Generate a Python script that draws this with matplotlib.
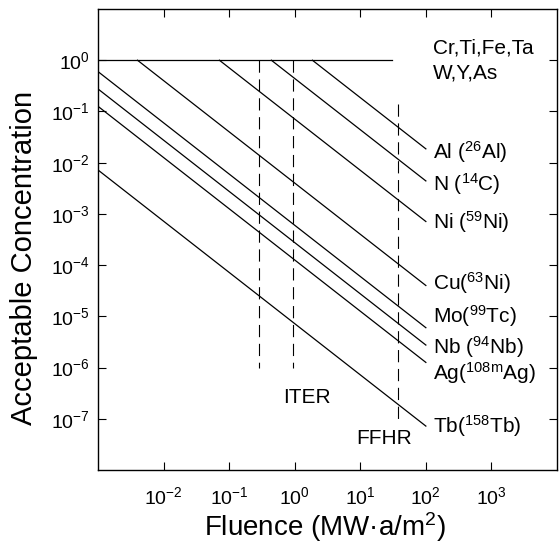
import matplotlib
matplotlib.use('Agg')
import matplotlib.pyplot as plt

plt.rcParams['font.family'] = ['Liberation Sans', 'DejaVu Sans']
plt.rcParams['mathtext.fontset'] = 'custom'
plt.rcParams['mathtext.rm'] = 'Liberation Sans'
plt.rcParams['mathtext.it'] = 'Liberation Sans:italic'
plt.rcParams['mathtext.bf'] = 'Liberation Sans:bold'

# Limit lines (fluence in MW.a/m2, concentration)
line_names = ['Al', 'N', 'Ni', 'Cu', 'Mo', 'Nb', 'Ag', 'Tb']
line_labels = ['Al ($^{26}$Al)', 'N ($^{14}$C)', 'Ni ($^{59}$Ni)', 'Cu($^{63}$Ni)',
               'Mo($^{99}$Tc)', 'Nb ($^{94}$Nb)', 'Ag($^{108\\mathrm{m}}$Ag)', 'Tb($^{158}$Tb)']
start_fluence = [1.86, 0.44, 0.071, 0.004, 0.001, 0.001, 0.001, 0.001]
start_conc = [1.0, 1.0, 1.0, 1.0, 0.6, 0.275, 0.126, 0.0072]
end_fluence = [100, 100, 100, 100, 100, 100, 100, 100]
end_conc = [0.0186, 0.0044, 0.00071, 4.0e-5, 6.0e-6, 2.75e-6, 1.26e-6, 7.2e-8]
label_conc = [0.016, 0.0038, 0.00069, 4.5e-5, 1.0e-5, 2.5e-6, 7.8e-7, 7.2e-8]
label_fluence = 130

# Elements that are not limited (flat line at 10^0)
flat_fluence = [0.001, 30]
flat_conc = [1.0, 1.0]
flat_labels = ['Cr,Ti,Fe,Ta', 'W,Y,As']
flat_label_conc = [1.73, 0.56]

# Device fluences (dashed)
device_fluence = [0.29, 0.95, 38]
device_top = [1.0, 1.0, 0.14]
device_bottom = [1e-6, 1e-6, 8.5e-8]
device_names = ['ITER', 'FFHR']
device_label_x = [1.55, 23]
device_label_y = [2.6e-7, 4.2e-8]

xticks = [1e-2, 1e-1, 1e0, 1e1, 1e2, 1e3]
xtick_labels = ['$\\mathregular{10^{-2}}$', '$\\mathregular{10^{-1}}$', '$\\mathregular{10^{0}}$',
                '$\\mathregular{10^{1}}$', '$\\mathregular{10^{2}}$', '$\\mathregular{10^{3}}$']
yticks = [1e0, 1e-1, 1e-2, 1e-3, 1e-4, 1e-5, 1e-6, 1e-7]
ytick_labels = ['$\\mathregular{10^{0}}$', '$\\mathregular{10^{-1}}$', '$\\mathregular{10^{-2}}$',
                '$\\mathregular{10^{-3}}$', '$\\mathregular{10^{-4}}$', '$\\mathregular{10^{-5}}$',
                '$\\mathregular{10^{-6}}$', '$\\mathregular{10^{-7}}$']

fig = plt.figure(figsize=(5.6, 5.46), dpi=100)
ax = fig.add_axes([98 / 560, 76 / 546, 459 / 560, 461 / 546])
ax.set_xscale('log')
ax.set_yscale('log')
ax.set_xlim(1e-3, 1e4)
ax.set_ylim(1e-8, 1e1)

lw = 0.9
ax.plot(flat_fluence, flat_conc, color='black', lw=lw)
for i in range(len(line_names)):
    ax.plot([start_fluence[i], end_fluence[i]], [start_conc[i], end_conc[i]], color='black', lw=lw)
    ax.text(label_fluence, label_conc[i], line_labels[i], fontsize=15, ha='left', va='center')

for i in range(len(flat_labels)):
    ax.text(label_fluence, flat_label_conc[i], flat_labels[i], fontsize=15, ha='left', va='center')

for i in range(len(device_fluence)):
    ax.plot([device_fluence[i], device_fluence[i]], [device_top[i], device_bottom[i]],
            color='black', lw=0.8, linestyle=(0, (11, 6)))

for i in range(len(device_names)):
    ax.text(device_label_x[i], device_label_y[i], device_names[i], fontsize=15, ha='center', va='center')

ax.minorticks_off()
ax.set_xticks(xticks)
ax.set_xticklabels(xtick_labels)
ax.set_yticks(yticks)
ax.set_yticklabels(ytick_labels)
ax.tick_params(which='major', direction='in', length=6, width=0.8, top=True, right=True,
               labelsize=14, colors='black')
ax.tick_params(axis='x', pad=12)
ax.tick_params(axis='y', pad=6)
for s in ax.spines.values():
    s.set_linewidth(1.0)

ax.set_xlabel('Fluence (MW·a/m$^{2}$)', fontsize=20)
ax.set_ylabel('Acceptable Concentration', fontsize=21)
ax.xaxis.set_label_coords(0.494, -0.088)
ax.yaxis.set_label_coords(-0.13, 0.46)

fig.savefig('out.png', dpi=100)
